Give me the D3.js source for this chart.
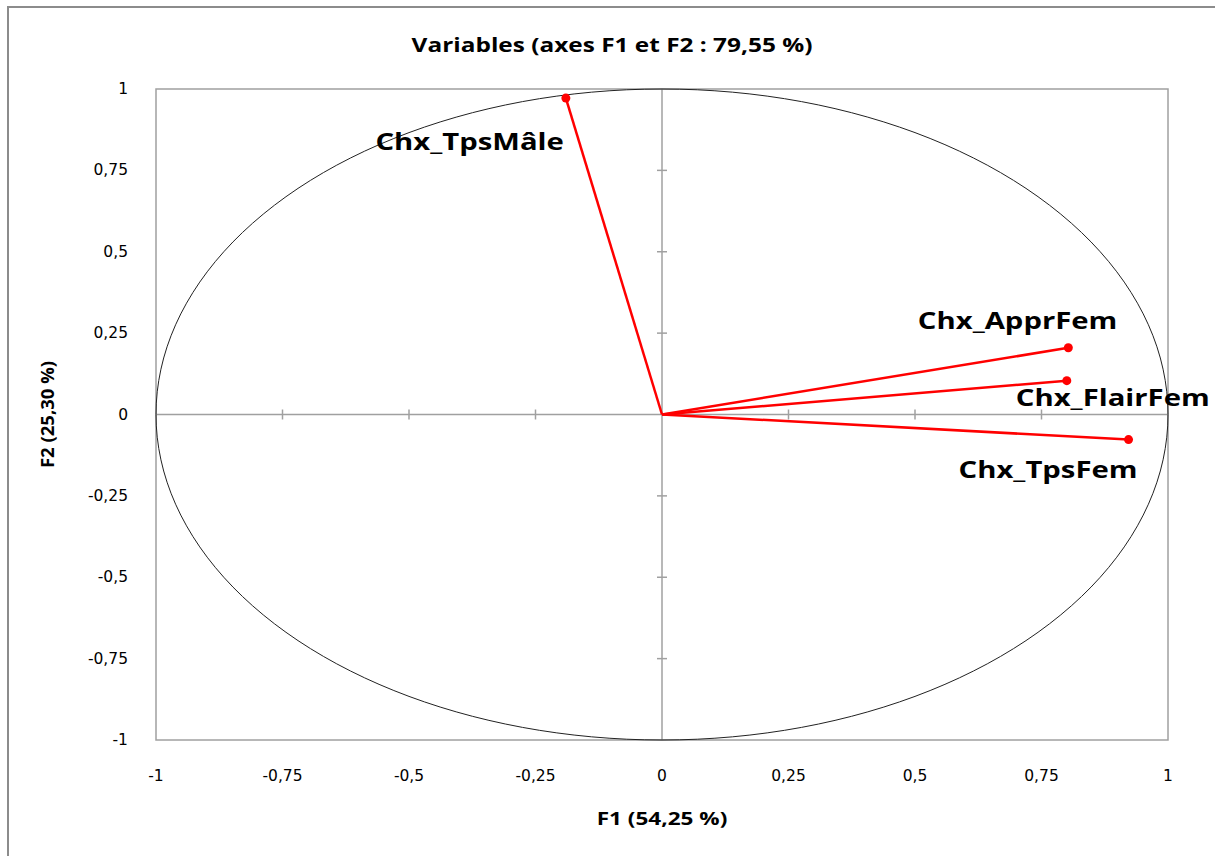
<!DOCTYPE html>
<html>
<head>
<meta charset="utf-8">
<script src="https://cdn.jsdelivr.net/npm/d3@7"></script>
<style>
  body { margin: 0; background: #fff; }
  .tick-label { font-family: "DejaVu Sans", Verdana, sans-serif; font-size: 15.5px; fill: #000; }
  .title { font-family: "Open Sans", sans-serif; font-weight: bold; font-size: 20px; }
  .axis-title { font-family: "Open Sans", sans-serif; font-weight: bold; font-size: 18.5px; }
  .var-label { font-family: "Open Sans", sans-serif; font-weight: bold; font-size: 24px; }
</style>
</head>
<body>
<div id="chart"></div>
<script>
const width = 1215
const height = 856
const margins = { top: 89, bottom: 116, left: 156, right: 47 }
// the reference text is a little wider than tall
const stretch = 1.22

// data
const variables = ['Chx_TpsMâle', 'Chx_ApprFem', 'Chx_FlairFem', 'Chx_TpsFem']
const f1 = [-0.19, 0.803, 0.80, 0.922]
const f2 = [0.972, 0.205, 0.104, -0.077]
const tickValues = [-1, -0.75, -0.5, -0.25, 0, 0.25, 0.5, 0.75, 1]
const titleText = 'Variables (axes F1 et F2 : 79,55 %)'
const xTitle = 'F1 (54,25 %)'
const yTitle = 'F2 (25,30 %)'

// where each label sits relative to its point (dx, dy, anchor)
const labelPlace = [
    { dx: -2, dy: 52, anchor: 'end' },
    { dx: 49, dy: -19, anchor: 'end' },
    { dx: -51, dy: 25, anchor: 'start' },
    { dx: 9, dy: 38, anchor: 'end' }
]

const w = width - margins.left - margins.right
const h = height - margins.top - margins.bottom

let svg = d3.select('#chart').append('svg').attr('width', width).attr('height', height)

// outer frame (runs past the right and bottom edge)
svg.append('rect')
    .attr('x', 8).attr('y', 7)
    .attr('width', width + 20).attr('height', height + 20)
    .attr('fill', 'none').attr('stroke', '#8c8c8c').attr('stroke-width', 2)

let x = d3.scaleLinear().domain([-1, 1]).range([0, w])
let y = d3.scaleLinear().domain([-1, 1]).range([h, 0])
const fmt = d => String(d).replace('.', ',')

let g = svg.append('g').attr('transform', `translate(${margins.left}, ${margins.top})`)

g.append('rect')
    .attr('width', w).attr('height', h)
    .attr('fill', 'none').attr('stroke', '#a0a0a0').attr('stroke-width', 1.5)

// axes through zero
g.append('line').attr('x1', 0).attr('x2', w).attr('y1', y(0)).attr('y2', y(0))
    .attr('stroke', '#a0a0a0').attr('stroke-width', 1.5)
g.append('line').attr('x1', x(0)).attr('x2', x(0)).attr('y1', 0).attr('y2', h)
    .attr('stroke', '#a0a0a0').attr('stroke-width', 1.5)

const inner = tickValues.filter(d => Math.abs(d) < 1 && d !== 0)
g.selectAll('line.xtick').data(inner).enter()
    .append('line').attr('class', 'xtick')
    .attr('x1', d => x(d)).attr('x2', d => x(d))
    .attr('y1', y(0) - 5).attr('y2', y(0) + 5)
    .attr('stroke', '#a0a0a0').attr('stroke-width', 1.5)
g.selectAll('line.ytick').data(inner).enter()
    .append('line').attr('class', 'ytick')
    .attr('x1', x(0) - 5).attr('x2', x(0) + 5)
    .attr('y1', d => y(d)).attr('y2', d => y(d))
    .attr('stroke', '#a0a0a0').attr('stroke-width', 1.5)

// tick labels
g.selectAll('text.xl').data(tickValues).enter()
    .append('text').attr('class', 'tick-label xl')
    .attr('x', d => x(d)).attr('y', h + 41)
    .attr('text-anchor', 'middle')
    .text(fmt)
g.selectAll('text.yl').data(tickValues).enter()
    .append('text').attr('class', 'tick-label yl')
    .attr('x', -28).attr('y', d => y(d) + 5)
    .attr('text-anchor', 'end')
    .text(fmt)

// correlation circle
const circle = d3.range(0, 361, 2).map(a => [Math.cos(a * Math.PI / 180), Math.sin(a * Math.PI / 180)])
g.append('path')
    .attr('d', d3.line().x(d => x(d[0])).y(d => y(d[1]))(circle))
    .attr('fill', 'none').attr('stroke', '#222').attr('stroke-width', 1)

// vectors
const pts = variables.map((v, i) => ({ name: v, x: f1[i], y: f2[i], place: labelPlace[i] }))
g.selectAll('line.vec').data(pts).enter()
    .append('line').attr('class', 'vec')
    .attr('x1', x(0)).attr('y1', y(0))
    .attr('x2', d => x(d.x)).attr('y2', d => y(d.y))
    .attr('stroke', '#ff0000').attr('stroke-width', 2.5)
g.selectAll('circle.pt').data(pts).enter()
    .append('circle').attr('class', 'pt')
    .attr('cx', d => x(d.x)).attr('cy', d => y(d.y)).attr('r', 4.5)
    .attr('fill', '#ff0000')
g.selectAll('text.var-label').data(pts).enter()
    .append('text').attr('class', 'var-label')
    .attr('transform', d => `translate(${x(d.x) + d.place.dx}, ${y(d.y) + d.place.dy}) scale(${stretch}, 1)`)
    .attr('text-anchor', d => d.place.anchor)
    .text(d => d.name)

// titles
svg.append('text').attr('class', 'title')
    .attr('transform', `translate(612, 52) scale(${stretch}, 1)`)
    .attr('text-anchor', 'middle')
    .text(titleText)
svg.append('text').attr('class', 'axis-title')
    .attr('transform', `translate(${margins.left + x(0)}, 825) scale(${stretch}, 1)`)
    .attr('text-anchor', 'middle')
    .text(xTitle)
svg.append('text').attr('class', 'axis-title')
    .attr('transform', `translate(54, ${margins.top + y(0)}) rotate(-90)`)
    .attr('text-anchor', 'middle')
    .text(yTitle)
</script>
</body>
</html>
